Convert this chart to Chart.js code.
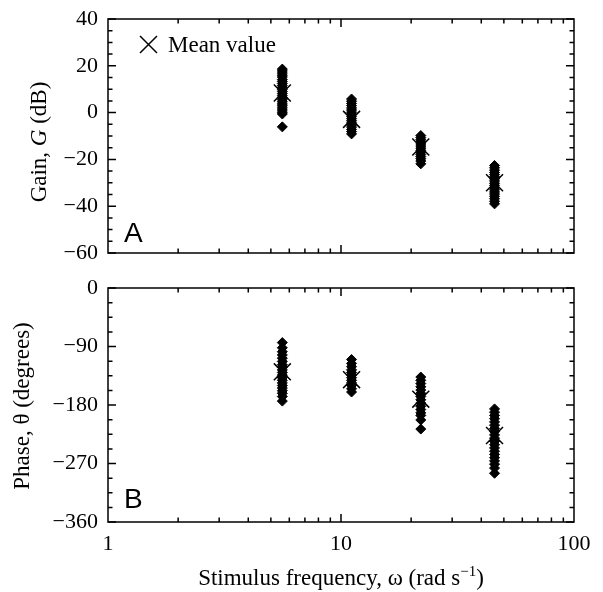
<!DOCTYPE html>
<html>
<head>
<meta charset="utf-8">
<script src="https://cdn.jsdelivr.net/npm/chart.js@4.4.0/dist/chart.umd.min.js"></script>
<style>
  body { margin: 0; background: #fff; }
  #wrap { position: relative; width: 603px; height: 592px; }
  #gainChart { position: absolute; left: 0; top: 0; }
  #phaseChart { position: absolute; left: 0; top: 270px; }
</style>
</head>
<body>
<div id="wrap">
  <canvas id="gainChart" width="603" height="270"></canvas>
  <canvas id="phaseChart" width="603" height="322"></canvas>
</div>
<script>
// stimulus frequencies (rad/s)
const freqs = [5.6, 11.1, 22, 45.6];

// gain (dB), one list per frequency
const gain1 = [18.6, 17.8, 16.9, 16, 15.2, 14.1, 13.3, 12.4, 11.5, 10.6, 9.8, 9, 8.1, 7.2, 6.4, 5.5, 4.6, 3.7, 2.9, 2, 1.1, 0.2, -0.6, -6.1];
const gain2 = [5.8, 4.9, 3.9, 3, 2, 1.1, 0.2, -0.8, -1.7, -2.6, -3.5, -4.4, -5.3, -6.2, -7.2, -8.1, -9.1];
const gain3 = [-9.8, -10.7, -11.6, -12.5, -13.4, -14.3, -15.2, -16.1, -17, -17.9, -18.8, -19.7, -20.7, -21.9];
const gain4 = [-22.6, -23.6, -24.6, -25.6, -26.5, -27.4, -28.3, -29.2, -30.2, -31.1, -32, -33, -33.9, -34.8, -35.8, -36.8, -37.9, -39];
const gainMeans = [8.4, -2.9, -14.7, -30];

// phase (degrees), one list per frequency
const phase1 = [-84, -92, -98, -103, -108, -113, -118, -122, -126, -130, -134, -138, -142, -146, -150, -154, -158, -162, -167, -174];
const phase2 = [-110, -116, -121, -126, -130, -134, -138, -142, -146, -150, -155, -160];
const phase3 = [-137, -142, -147, -152, -157, -162, -167, -172, -177, -182, -187, -192, -196, -203, -217];
const phase4 = [-186, -191, -196, -201, -206, -211, -216, -221, -226, -231, -236, -241, -246, -251, -256, -261, -266, -271, -277, -285];
const phaseMeans = [-129, -141, -171, -227];

// tick labels
const freqTicks = [1, 10, 100];
const gainTicks = [40, 20, 0, -20, -40, -60];
const phaseTicks = [0, -90, -180, -270, -360];

const serif = 'Liberation Serif';

function toPoints(groups) {
    const pts = [];
    groups.forEach((vals, i) => vals.forEach(v => pts.push({ x: freqs[i], y: v })));
    return pts;
}

function meanPoints(means) {
    return means.map((v, i) => ({ x: freqs[i], y: v }));
}

function datasets(groups, means) {
    return [
        {
            data: toPoints(groups),
            pointStyle: 'rectRot',
            pointRadius: 5,
            backgroundColor: '#000',
            borderColor: '#000',
            borderWidth: 1
        },
        {
            data: meanPoints(means),
            pointStyle: 'crossRot',
            pointRadius: 12,
            borderColor: '#000',
            borderWidth: 1.5
        }
    ];
}

// frame with inward ticks on all four sides
const framePlugin = {
    id: 'frame',
    afterDraw(chart, args, opts) {
        const { ctx, chartArea: a, scales: { x, y } } = chart;
        ctx.save();
        ctx.strokeStyle = '#000';
        ctx.lineWidth = 1.5;
        ctx.strokeRect(a.left, a.top, a.right - a.left, a.bottom - a.top);
        ctx.beginPath();
        const xTick = (v, len) => {
            const px = x.getPixelForValue(v);
            ctx.moveTo(px, a.bottom); ctx.lineTo(px, a.bottom - len);
            ctx.moveTo(px, a.top); ctx.lineTo(px, a.top + len);
        };
        const yTick = (v, len) => {
            const py = y.getPixelForValue(v);
            ctx.moveTo(a.left, py); ctx.lineTo(a.left + len, py);
            ctx.moveTo(a.right, py); ctx.lineTo(a.right - len, py);
        };
        for (let d = 1; d <= 10; d *= 10) {
            for (let k = 2; k <= 9; k++) xTick(k * d, 4.5);
        }
        xTick(10, 8);
        const ticks = opts.major;
        const lo = Math.min(...ticks), hi = Math.max(...ticks);
        for (let v = lo; v <= hi + 0.001; v += opts.minor) {
            yTick(v, ticks.includes(v) ? 8 : 4.5);
        }
        ctx.stroke();
        ctx.restore();
    }
};

function drawParts(ctx, parts, startX, baseY) {
    let cx = startX;
    parts.forEach(p => {
        ctx.font = p.font;
        ctx.fillText(p.text, cx, baseY + (p.dy || 0));
        cx += ctx.measureText(p.text).width;
    });
}

function partsWidth(ctx, parts) {
    let w = 0;
    parts.forEach(p => { ctx.font = p.font; w += ctx.measureText(p.text).width; });
    return w;
}

function rotatedTitle(ctx, parts, cx, cy) {
    ctx.save();
    ctx.translate(cx, cy);
    ctx.rotate(-Math.PI / 2);
    ctx.textBaseline = 'middle';
    ctx.textAlign = 'left';
    drawParts(ctx, parts, -partsWidth(ctx, parts) / 2, 0);
    ctx.restore();
}

const gainText = {
    id: 'gainText',
    afterDraw(chart) {
        const ctx = chart.ctx;
        ctx.save();
        ctx.fillStyle = '#000';
        rotatedTitle(ctx, [
            { text: 'Gain, ', font: `23px "${serif}"` },
            { text: 'G', font: `italic 23px "${serif}"` },
            { text: ' (dB)', font: `23px "${serif}"` }
        ], 40, 142);
        // legend
        ctx.strokeStyle = '#000';
        ctx.lineWidth = 1.5;
        ctx.beginPath();
        ctx.moveTo(140, 36); ctx.lineTo(157, 53);
        ctx.moveTo(157, 36); ctx.lineTo(140, 53);
        ctx.stroke();
        ctx.font = `23px "${serif}"`;
        ctx.textBaseline = 'alphabetic';
        ctx.fillText('Mean value', 168, 52);
        ctx.font = '28px "Liberation Sans"';
        ctx.fillText('A', 124, 242);
        ctx.restore();
    }
};

const phaseText = {
    id: 'phaseText',
    afterDraw(chart) {
        const ctx = chart.ctx;
        const a = chart.chartArea;
        ctx.save();
        ctx.fillStyle = '#000';
        rotatedTitle(ctx, [
            { text: 'Phase, \u03b8 (degrees)', font: `23px "${serif}"` }
        ], 23, 136);
        const parts = [
            { text: 'Stimulus frequency, \u03c9 (rad s', font: `23px "${serif}"` },
            { text: '\u22121', font: `15px "${serif}"`, dy: -9 },
            { text: ')', font: `23px "${serif}"` }
        ];
        ctx.textBaseline = 'alphabetic';
        drawParts(ctx, parts, (a.left + a.right) / 2 - partsWidth(ctx, parts) / 2, 315);
        ctx.font = '28px "Liberation Sans"';
        ctx.fillText('B', 124, 238);
        ctx.restore();
    }
};

function minusSign(v) {
    return String(v).replace('-', '\u2212');
}

function makeChart(id, groups, means, yTicks, minorStep, showX, textPlugin) {
    const ctx = document.getElementById(id).getContext('2d');
    return new Chart(ctx, {
        type: 'scatter',
        data: { datasets: datasets(groups, means) },
        options: {
            responsive: false,
            animation: false,
            events: [],
            layout: {
                padding: { top: showX ? 18 : 19, right: 29, bottom: showX ? 0 : 17, left: 0 }
            },
            plugins: {
                legend: { display: false },
                tooltip: { enabled: false },
                frame: { major: yTicks, minor: minorStep }
            },
            scales: {
                x: {
                    type: 'logarithmic',
                    min: 1,
                    max: 100,
                    display: showX,
                    grid: { display: false, drawTicks: false },
                    border: { display: false },
                    afterBuildTicks: s => { s.ticks = freqTicks.map(v => ({ value: v })); },
                    afterFit: s => { s.height = showX ? 70 : 0; },
                    ticks: {
                        autoSkip: false,
                        maxRotation: 0,
                        padding: 9,
                        color: '#000',
                        font: { family: serif, size: 22 },
                        callback: v => String(v)
                    }
                },
                y: {
                    min: Math.min(...yTicks),
                    max: Math.max(...yTicks),
                    grid: { display: false, drawTicks: false },
                    border: { display: false },
                    afterBuildTicks: s => { s.ticks = yTicks.map(v => ({ value: v })); },
                    afterFit: s => { s.width = 108; },
                    ticks: {
                        padding: 10,
                        color: '#000',
                        font: { family: serif, size: 22, lineHeight: 0.6 },
                        callback: v => minusSign(v)
                    }
                }
            }
        },
        plugins: [framePlugin, textPlugin]
    });
}

makeChart('gainChart', [gain1, gain2, gain3, gain4], gainMeans, gainTicks, 5, false, gainText);
makeChart('phaseChart', [phase1, phase2, phase3, phase4], phaseMeans, phaseTicks, 22.5, true, phaseText);
</script>
</body>
</html>
